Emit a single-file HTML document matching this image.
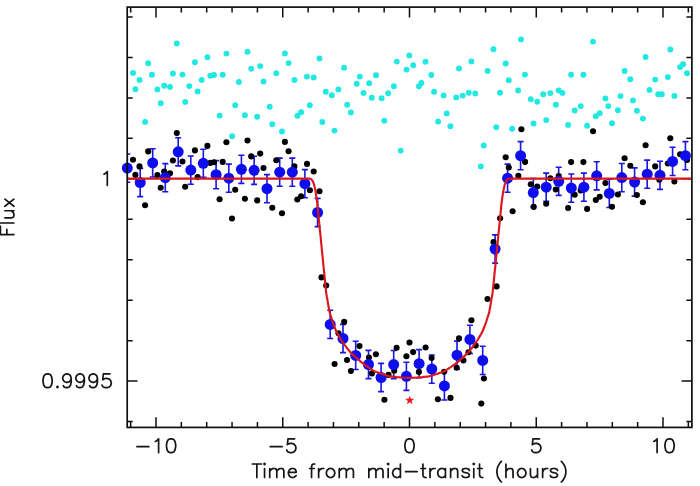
<!DOCTYPE html>
<html><head><meta charset="utf-8"><title>Transit light curve</title>
<style>html,body{margin:0;padding:0;background:#fff;}body{width:700px;height:486px;overflow:hidden;font-family:"Liberation Sans",sans-serif;}svg{display:block;}</style>
</head><body>
<svg width="700" height="486" viewBox="0 0 700 486">
<rect width="700" height="486" fill="#fff"/>
<defs><filter id="soft" x="-2%" y="-2%" width="104%" height="104%"><feGaussianBlur stdDeviation="0.4"/></filter></defs>
<g filter="url(#soft)">
<defs><clipPath id="c"><rect x="127.2" y="7.1" width="564.6999999999999" height="420.34999999999997"/></clipPath></defs>
<g fill="#20e8e2">
<circle cx="133.0" cy="72.9" r="2.95"/>
<circle cx="139.5" cy="79.9" r="2.95"/>
<circle cx="135.4" cy="89.2" r="2.95"/>
<circle cx="148.2" cy="63.3" r="2.95"/>
<circle cx="151.9" cy="74.8" r="2.95"/>
<circle cx="145.1" cy="121.9" r="2.95"/>
<circle cx="157.4" cy="89.4" r="2.95"/>
<circle cx="160.7" cy="103.2" r="2.95"/>
<circle cx="164.2" cy="85.7" r="2.95"/>
<circle cx="170.0" cy="86.9" r="2.95"/>
<circle cx="172.9" cy="73.5" r="2.95"/>
<circle cx="176.8" cy="43.5" r="2.95"/>
<circle cx="182.5" cy="74.6" r="2.95"/>
<circle cx="185.2" cy="101.9" r="2.95"/>
<circle cx="189.3" cy="86.1" r="2.95"/>
<circle cx="194.9" cy="62.2" r="2.95"/>
<circle cx="197.6" cy="91.4" r="2.95"/>
<circle cx="201.7" cy="79.9" r="2.95"/>
<circle cx="207.4" cy="57.3" r="2.95"/>
<circle cx="210.3" cy="75.8" r="2.95"/>
<circle cx="214.0" cy="75.0" r="2.95"/>
<circle cx="222.7" cy="74.8" r="2.95"/>
<circle cx="219.6" cy="115.6" r="2.95"/>
<circle cx="226.4" cy="53.6" r="2.95"/>
<circle cx="235.2" cy="105.2" r="2.95"/>
<circle cx="238.9" cy="82.0" r="2.95"/>
<circle cx="247.5" cy="51.7" r="2.95"/>
<circle cx="244.9" cy="115.2" r="2.95"/>
<circle cx="251.2" cy="68.8" r="2.95"/>
<circle cx="257.2" cy="116.8" r="2.95"/>
<circle cx="260.2" cy="66.1" r="2.95"/>
<circle cx="263.5" cy="81.5" r="2.95"/>
<circle cx="269.7" cy="106.7" r="2.95"/>
<circle cx="272.3" cy="124.2" r="2.95"/>
<circle cx="276.3" cy="73.3" r="2.95"/>
<circle cx="284.9" cy="53.4" r="2.95"/>
<circle cx="288.6" cy="63.1" r="2.95"/>
<circle cx="294.4" cy="79.9" r="2.95"/>
<circle cx="297.4" cy="115.7" r="2.95"/>
<circle cx="301.1" cy="112.2" r="2.95"/>
<circle cx="306.9" cy="76.6" r="2.95"/>
<circle cx="309.8" cy="105.2" r="2.95"/>
<circle cx="313.7" cy="77.5" r="2.95"/>
<circle cx="319.5" cy="58.5" r="2.95"/>
<circle cx="322.3" cy="122.0" r="2.95"/>
<circle cx="325.8" cy="91.7" r="2.95"/>
<circle cx="331.8" cy="95.2" r="2.95"/>
<circle cx="338.4" cy="89.4" r="2.95"/>
<circle cx="344.1" cy="67.8" r="2.95"/>
<circle cx="347.2" cy="104.8" r="2.95"/>
<circle cx="350.9" cy="112.4" r="2.95"/>
<circle cx="356.7" cy="83.8" r="2.95"/>
<circle cx="359.8" cy="76.6" r="2.95"/>
<circle cx="363.5" cy="92.9" r="2.95"/>
<circle cx="369.2" cy="83.2" r="2.95"/>
<circle cx="371.7" cy="97.8" r="2.95"/>
<circle cx="376.0" cy="75.2" r="2.95"/>
<circle cx="381.6" cy="98.2" r="2.95"/>
<circle cx="384.3" cy="120.7" r="2.95"/>
<circle cx="388.2" cy="93.3" r="2.95"/>
<circle cx="393.9" cy="86.3" r="2.95"/>
<circle cx="396.8" cy="61.6" r="2.95"/>
<circle cx="406.6" cy="69.6" r="2.95"/>
<circle cx="409.3" cy="55.4" r="2.95"/>
<circle cx="413.2" cy="65.3" r="2.95"/>
<circle cx="418.9" cy="86.3" r="2.95"/>
<circle cx="421.4" cy="83.0" r="2.95"/>
<circle cx="425.5" cy="61.8" r="2.95"/>
<circle cx="431.3" cy="75.0" r="2.95"/>
<circle cx="434.1" cy="91.7" r="2.95"/>
<circle cx="438.1" cy="121.5" r="2.95"/>
<circle cx="443.6" cy="95.4" r="2.95"/>
<circle cx="446.7" cy="113.4" r="2.95"/>
<circle cx="450.4" cy="126.3" r="2.95"/>
<circle cx="456.2" cy="97.4" r="2.95"/>
<circle cx="459.0" cy="68.4" r="2.95"/>
<circle cx="462.7" cy="95.6" r="2.95"/>
<circle cx="468.7" cy="92.7" r="2.95"/>
<circle cx="471.4" cy="61.4" r="2.95"/>
<circle cx="475.3" cy="93.5" r="2.95"/>
<circle cx="487.6" cy="70.9" r="2.95"/>
<circle cx="493.4" cy="49.3" r="2.95"/>
<circle cx="496.3" cy="127.3" r="2.95"/>
<circle cx="500.0" cy="92.7" r="2.95"/>
<circle cx="505.7" cy="63.5" r="2.95"/>
<circle cx="508.8" cy="80.3" r="2.95"/>
<circle cx="518.1" cy="90.4" r="2.95"/>
<circle cx="521.0" cy="39.4" r="2.95"/>
<circle cx="524.9" cy="74.6" r="2.95"/>
<circle cx="530.8" cy="99.3" r="2.95"/>
<circle cx="533.5" cy="123.5" r="2.95"/>
<circle cx="537.2" cy="101.7" r="2.95"/>
<circle cx="543.2" cy="94.2" r="2.95"/>
<circle cx="546.2" cy="120.1" r="2.95"/>
<circle cx="550.3" cy="93.1" r="2.95"/>
<circle cx="555.8" cy="104.8" r="2.95"/>
<circle cx="558.7" cy="90.4" r="2.95"/>
<circle cx="562.4" cy="92.9" r="2.95"/>
<circle cx="568.1" cy="124.9" r="2.95"/>
<circle cx="571.1" cy="74.8" r="2.95"/>
<circle cx="574.7" cy="110.5" r="2.95"/>
<circle cx="580.7" cy="106.1" r="2.95"/>
<circle cx="583.4" cy="74.8" r="2.95"/>
<circle cx="587.1" cy="125.8" r="2.95"/>
<circle cx="593.0" cy="41.6" r="2.95"/>
<circle cx="595.8" cy="116.3" r="2.95"/>
<circle cx="599.7" cy="113.2" r="2.95"/>
<circle cx="605.4" cy="98.4" r="2.95"/>
<circle cx="608.3" cy="106.1" r="2.95"/>
<circle cx="612.0" cy="123.2" r="2.95"/>
<circle cx="617.9" cy="110.3" r="2.95"/>
<circle cx="620.5" cy="96.1" r="2.95"/>
<circle cx="624.6" cy="70.9" r="2.95"/>
<circle cx="630.3" cy="79.2" r="2.95"/>
<circle cx="633.0" cy="100.4" r="2.95"/>
<circle cx="636.9" cy="110.7" r="2.95"/>
<circle cx="642.9" cy="118.6" r="2.95"/>
<circle cx="645.6" cy="57.0" r="2.95"/>
<circle cx="649.5" cy="89.9" r="2.95"/>
<circle cx="655.2" cy="79.6" r="2.95"/>
<circle cx="658.2" cy="94.3" r="2.95"/>
<circle cx="661.8" cy="94.3" r="2.95"/>
<circle cx="667.8" cy="77.1" r="2.95"/>
<circle cx="670.3" cy="49.5" r="2.95"/>
<circle cx="674.4" cy="95.9" r="2.95"/>
<circle cx="680.1" cy="67.1" r="2.95"/>
<circle cx="683.1" cy="64.3" r="2.95"/>
<circle cx="687.0" cy="73.2" r="2.95"/>
<circle cx="232.1" cy="136.2" r="2.95"/>
<circle cx="282.0" cy="131.5" r="2.95"/>
<circle cx="334.5" cy="130.6" r="2.95"/>
<circle cx="400.7" cy="150.6" r="2.95"/>
<circle cx="483.7" cy="145.4" r="2.95"/>
<circle cx="480.8" cy="166.4" r="2.95"/>
<circle cx="512.1" cy="128.8" r="2.95"/>
</g>
<g stroke="#1a14e0" stroke-width="1.6" fill="none" clip-path="url(#c)">
<path d="M127.3,154.0V182.2M124.3,154.0h6M124.3,182.2h6"/>
<path d="M140.2,168.4V196.6M137.2,168.4h6M137.2,196.6h6"/>
<path d="M152.7,148.8V177.0M149.7,148.8h6M149.7,177.0h6"/>
<path d="M165.3,163.6V191.8M162.3,163.6h6M162.3,191.8h6"/>
<path d="M178.2,137.7V165.9M175.2,137.7h6M175.2,165.9h6"/>
<path d="M190.8,156.0V184.2M187.8,156.0h6M187.8,184.2h6"/>
<path d="M203.3,149.2V177.4M200.3,149.2h6M200.3,177.4h6"/>
<path d="M216.1,160.6V188.8M213.1,160.6h6M213.1,188.8h6"/>
<path d="M228.8,164.1V192.3M225.8,164.1h6M225.8,192.3h6"/>
<path d="M241.4,155.2V183.4M238.4,155.2h6M238.4,183.4h6"/>
<path d="M254.1,156.2V184.4M251.1,156.2h6M251.1,184.4h6"/>
<path d="M267.0,174.6V202.8M264.0,174.6h6M264.0,202.8h6"/>
<path d="M279.7,158.1V186.3M276.7,158.1h6M276.7,186.3h6"/>
<path d="M292.3,158.1V186.3M289.3,158.1h6M289.3,186.3h6"/>
<path d="M304.9,169.6V197.8M301.9,169.6h6M301.9,197.8h6"/>
<path d="M317.6,198.4V226.6M314.6,198.4h6M314.6,226.6h6"/>
<path d="M330.2,310.3V338.5M327.2,310.3h6M327.2,338.5h6"/>
<path d="M343.0,324.4V352.6M340.0,324.4h6M340.0,352.6h6"/>
<path d="M355.7,341.3V369.5M352.7,341.3h6M352.7,369.5h6"/>
<path d="M368.5,350.4V378.6M365.5,350.4h6M365.5,378.6h6"/>
<path d="M381.1,363.4V391.6M378.1,363.4h6M378.1,391.6h6"/>
<path d="M393.7,350.5V378.7M390.7,350.5h6M390.7,378.7h6"/>
<path d="M406.4,362.2V390.4M403.4,362.2h6M403.4,390.4h6"/>
<path d="M419.1,349.6V377.8M416.1,349.6h6M416.1,377.8h6"/>
<path d="M431.8,355.0V383.2M428.8,355.0h6M428.8,383.2h6"/>
<path d="M444.4,371.8V400.0M441.4,371.8h6M441.4,400.0h6"/>
<path d="M457.0,341.1V369.3M454.0,341.1h6M454.0,369.3h6"/>
<path d="M469.9,325.3V353.5M466.9,325.3h6M466.9,353.5h6"/>
<path d="M482.7,346.3V374.5M479.7,346.3h6M479.7,374.5h6"/>
<path d="M495.1,234.9V263.1M492.1,234.9h6M492.1,263.1h6"/>
<path d="M507.6,164.1V192.3M504.6,164.1h6M504.6,192.3h6"/>
<path d="M520.6,141.6V169.8M517.6,141.6h6M517.6,169.8h6"/>
<path d="M533.3,178.5V206.7M530.3,178.5h6M530.3,206.7h6"/>
<path d="M546.2,173.1V201.3M543.2,173.1h6M543.2,201.3h6"/>
<path d="M558.7,167.2V195.4M555.7,167.2h6M555.7,195.4h6"/>
<path d="M571.3,174.0V202.2M568.3,174.0h6M568.3,202.2h6"/>
<path d="M583.9,173.1V201.3M580.9,173.1h6M580.9,201.3h6"/>
<path d="M596.7,161.7V189.9M593.7,161.7h6M593.7,189.9h6"/>
<path d="M609.3,179.3V207.5M606.3,179.3h6M606.3,207.5h6"/>
<path d="M621.8,163.5V191.7M618.8,163.5h6M618.8,191.7h6"/>
<path d="M634.6,167.9V196.1M631.6,167.9h6M631.6,196.1h6"/>
<path d="M647.2,160.1V188.3M644.2,160.1h6M644.2,188.3h6"/>
<path d="M660.0,161.2V189.4M657.0,161.2h6M657.0,189.4h6"/>
<path d="M672.6,147.3V175.5M669.6,147.3h6M669.6,175.5h6"/>
<path d="M685.4,141.6V169.8M682.4,141.6h6M682.4,169.8h6"/>
</g>
<g fill="#000">
<circle cx="232.0" cy="218.5" r="3.05"/>
<circle cx="133.0" cy="159.8" r="3.05"/>
<circle cx="135.4" cy="174.9" r="3.05"/>
<circle cx="139.5" cy="166.4" r="3.05"/>
<circle cx="145.1" cy="205.3" r="3.05"/>
<circle cx="148.2" cy="151.4" r="3.05"/>
<circle cx="157.4" cy="175.1" r="3.05"/>
<circle cx="160.7" cy="187.8" r="3.05"/>
<circle cx="164.2" cy="171.6" r="3.05"/>
<circle cx="170.0" cy="173.2" r="3.05"/>
<circle cx="172.9" cy="160.5" r="3.05"/>
<circle cx="176.8" cy="133.1" r="3.05"/>
<circle cx="182.5" cy="161.5" r="3.05"/>
<circle cx="185.2" cy="186.8" r="3.05"/>
<circle cx="194.9" cy="150.4" r="3.05"/>
<circle cx="197.6" cy="177.1" r="3.05"/>
<circle cx="207.4" cy="145.9" r="3.05"/>
<circle cx="210.3" cy="162.9" r="3.05"/>
<circle cx="214.0" cy="162.3" r="3.05"/>
<circle cx="222.7" cy="161.9" r="3.05"/>
<circle cx="219.6" cy="199.3" r="3.05"/>
<circle cx="226.4" cy="142.2" r="3.05"/>
<circle cx="235.2" cy="189.7" r="3.05"/>
<circle cx="247.5" cy="140.5" r="3.05"/>
<circle cx="244.9" cy="198.7" r="3.05"/>
<circle cx="251.2" cy="156.4" r="3.05"/>
<circle cx="257.2" cy="200.4" r="3.05"/>
<circle cx="260.2" cy="153.6" r="3.05"/>
<circle cx="263.5" cy="168.0" r="3.05"/>
<circle cx="272.3" cy="207.8" r="3.05"/>
<circle cx="276.3" cy="160.3" r="3.05"/>
<circle cx="282.0" cy="213.3" r="3.05"/>
<circle cx="284.9" cy="141.9" r="3.05"/>
<circle cx="288.6" cy="151.2" r="3.05"/>
<circle cx="294.4" cy="166.4" r="3.05"/>
<circle cx="297.3" cy="199.5" r="3.05"/>
<circle cx="301.1" cy="196.2" r="3.05"/>
<circle cx="307.0" cy="163.9" r="3.05"/>
<circle cx="309.9" cy="190.2" r="3.05"/>
<circle cx="313.7" cy="171.5" r="3.05"/>
<circle cx="319.5" cy="191.2" r="3.05"/>
<circle cx="321.5" cy="277.4" r="3.05"/>
<circle cx="326.2" cy="285.6" r="3.05"/>
<circle cx="344.2" cy="321.9" r="3.05"/>
<circle cx="338.5" cy="333.2" r="3.05"/>
<circle cx="334.6" cy="364.0" r="3.05"/>
<circle cx="347.0" cy="360.0" r="3.05"/>
<circle cx="350.9" cy="371.0" r="3.05"/>
<circle cx="359.5" cy="346.1" r="3.05"/>
<circle cx="368.9" cy="357.5" r="3.05"/>
<circle cx="375.9" cy="354.3" r="3.05"/>
<circle cx="371.9" cy="373.4" r="3.05"/>
<circle cx="388.5" cy="374.9" r="3.05"/>
<circle cx="396.6" cy="347.7" r="3.05"/>
<circle cx="394.2" cy="370.8" r="3.05"/>
<circle cx="406.4" cy="356.2" r="3.05"/>
<circle cx="409.5" cy="342.6" r="3.05"/>
<circle cx="413.1" cy="352.1" r="3.05"/>
<circle cx="418.9" cy="371.9" r="3.05"/>
<circle cx="425.6" cy="347.5" r="3.05"/>
<circle cx="431.6" cy="358.0" r="3.05"/>
<circle cx="384.4" cy="399.7" r="3.05"/>
<circle cx="444.1" cy="371.8" r="3.05"/>
<circle cx="437.9" cy="399.2" r="3.05"/>
<circle cx="450.5" cy="397.9" r="3.05"/>
<circle cx="456.7" cy="367.7" r="3.05"/>
<circle cx="459.0" cy="338.4" r="3.05"/>
<circle cx="463.4" cy="360.4" r="3.05"/>
<circle cx="468.5" cy="352.2" r="3.05"/>
<circle cx="471.4" cy="320.3" r="3.05"/>
<circle cx="475.7" cy="345.6" r="3.05"/>
<circle cx="483.9" cy="378.5" r="3.05"/>
<circle cx="481.3" cy="403.6" r="3.05"/>
<circle cx="493.5" cy="242.0" r="3.05"/>
<circle cx="496.6" cy="286.4" r="3.05"/>
<circle cx="487.5" cy="299.0" r="3.05"/>
<circle cx="500.1" cy="218.2" r="3.05"/>
<circle cx="512.6" cy="211.2" r="3.05"/>
<circle cx="521.4" cy="129.2" r="3.05"/>
<circle cx="505.7" cy="157.2" r="3.05"/>
<circle cx="525.1" cy="161.9" r="3.05"/>
<circle cx="508.8" cy="167.5" r="3.05"/>
<circle cx="518.3" cy="175.7" r="3.05"/>
<circle cx="530.8" cy="184.3" r="3.05"/>
<circle cx="537.2" cy="186.6" r="3.05"/>
<circle cx="533.7" cy="206.9" r="3.05"/>
<circle cx="546.2" cy="203.8" r="3.05"/>
<circle cx="550.3" cy="178.3" r="3.05"/>
<circle cx="555.8" cy="189.5" r="3.05"/>
<circle cx="558.7" cy="176.0" r="3.05"/>
<circle cx="568.1" cy="208.0" r="3.05"/>
<circle cx="571.1" cy="162.1" r="3.05"/>
<circle cx="574.7" cy="194.8" r="3.05"/>
<circle cx="580.7" cy="190.4" r="3.05"/>
<circle cx="583.4" cy="162.1" r="3.05"/>
<circle cx="587.1" cy="208.9" r="3.05"/>
<circle cx="593.0" cy="131.2" r="3.05"/>
<circle cx="595.8" cy="200.0" r="3.05"/>
<circle cx="599.7" cy="196.8" r="3.05"/>
<circle cx="605.4" cy="183.1" r="3.05"/>
<circle cx="612.0" cy="206.7" r="3.05"/>
<circle cx="617.9" cy="194.5" r="3.05"/>
<circle cx="624.6" cy="158.2" r="3.05"/>
<circle cx="630.3" cy="165.7" r="3.05"/>
<circle cx="636.9" cy="195.0" r="3.05"/>
<circle cx="642.9" cy="202.3" r="3.05"/>
<circle cx="645.6" cy="145.2" r="3.05"/>
<circle cx="655.2" cy="166.4" r="3.05"/>
<circle cx="659.3" cy="179.7" r="3.05"/>
<circle cx="667.8" cy="163.5" r="3.05"/>
<circle cx="670.3" cy="138.3" r="3.05"/>
<circle cx="674.4" cy="181.5" r="3.05"/>
<circle cx="680.1" cy="154.3" r="3.05"/>
<circle cx="687.0" cy="160.0" r="3.05"/>
</g>
<g fill="#0e0aee">
<circle cx="127.3" cy="168.1" r="5.5"/>
<circle cx="140.2" cy="182.5" r="5.5"/>
<circle cx="152.7" cy="162.9" r="5.5"/>
<circle cx="165.3" cy="177.7" r="5.5"/>
<circle cx="178.2" cy="151.8" r="5.5"/>
<circle cx="190.8" cy="170.1" r="5.5"/>
<circle cx="203.3" cy="163.3" r="5.5"/>
<circle cx="216.1" cy="174.7" r="5.5"/>
<circle cx="228.8" cy="178.2" r="5.5"/>
<circle cx="241.4" cy="169.3" r="5.5"/>
<circle cx="254.1" cy="170.3" r="5.5"/>
<circle cx="267.0" cy="188.7" r="5.5"/>
<circle cx="279.7" cy="172.2" r="5.5"/>
<circle cx="292.3" cy="172.2" r="5.5"/>
<circle cx="304.9" cy="183.7" r="5.5"/>
<circle cx="317.6" cy="212.5" r="5.5"/>
<circle cx="330.2" cy="324.4" r="5.5"/>
<circle cx="343.0" cy="338.5" r="5.5"/>
<circle cx="355.7" cy="355.4" r="5.5"/>
<circle cx="368.5" cy="364.5" r="5.5"/>
<circle cx="381.1" cy="377.5" r="5.5"/>
<circle cx="393.7" cy="364.6" r="5.5"/>
<circle cx="406.4" cy="376.3" r="5.5"/>
<circle cx="419.1" cy="363.7" r="5.5"/>
<circle cx="431.8" cy="369.1" r="5.5"/>
<circle cx="444.4" cy="385.9" r="5.5"/>
<circle cx="457.0" cy="355.2" r="5.5"/>
<circle cx="469.9" cy="339.4" r="5.5"/>
<circle cx="482.7" cy="360.4" r="5.5"/>
<circle cx="495.1" cy="249.0" r="5.5"/>
<circle cx="507.6" cy="178.2" r="5.5"/>
<circle cx="520.6" cy="155.7" r="5.5"/>
<circle cx="533.3" cy="192.6" r="5.5"/>
<circle cx="546.2" cy="187.2" r="5.5"/>
<circle cx="558.7" cy="181.3" r="5.5"/>
<circle cx="571.3" cy="188.1" r="5.5"/>
<circle cx="583.9" cy="187.2" r="5.5"/>
<circle cx="596.7" cy="175.8" r="5.5"/>
<circle cx="609.3" cy="193.4" r="5.5"/>
<circle cx="621.8" cy="177.6" r="5.5"/>
<circle cx="634.6" cy="182.0" r="5.5"/>
<circle cx="647.2" cy="174.2" r="5.5"/>
<circle cx="660.0" cy="175.3" r="5.5"/>
<circle cx="672.6" cy="161.4" r="5.5"/>
<circle cx="685.4" cy="155.7" r="5.5"/>
</g>
<polygon points="409.70,395.40 410.82,398.76 414.36,398.79 411.51,400.89 412.58,404.26 409.70,402.20 406.82,404.26 407.89,400.89 405.04,398.79 408.58,398.76" fill="#f01818"/>
<path d="M130.65,427.45v-5.5M130.65,7.1v5.5M156.00,427.45v-10.3M156.00,7.1v10.3M181.35,427.45v-5.5M181.35,7.1v5.5M206.70,427.45v-5.5M206.70,7.1v5.5M232.05,427.45v-5.5M232.05,7.1v5.5M257.40,427.45v-5.5M257.40,7.1v5.5M282.75,427.45v-10.3M282.75,7.1v10.3M308.10,427.45v-5.5M308.10,7.1v5.5M333.45,427.45v-5.5M333.45,7.1v5.5M358.80,427.45v-5.5M358.80,7.1v5.5M384.15,427.45v-5.5M384.15,7.1v5.5M409.50,427.45v-10.3M409.50,7.1v10.3M434.85,427.45v-5.5M434.85,7.1v5.5M460.20,427.45v-5.5M460.20,7.1v5.5M485.55,427.45v-5.5M485.55,7.1v5.5M510.90,427.45v-5.5M510.90,7.1v5.5M536.25,427.45v-10.3M536.25,7.1v10.3M561.60,427.45v-5.5M561.60,7.1v5.5M586.95,427.45v-5.5M586.95,7.1v5.5M612.30,427.45v-5.5M612.30,7.1v5.5M637.65,427.45v-5.5M637.65,7.1v5.5M663.00,427.45v-10.3M663.00,7.1v10.3M688.35,427.45v-5.5M688.35,7.1v5.5M127.2,16.96h5.5M691.9,16.96h-5.5M127.2,57.42h5.5M691.9,57.42h-5.5M127.2,97.88h5.5M691.9,97.88h-5.5M127.2,138.34h5.5M691.9,138.34h-5.5M127.2,178.80h10.3M691.9,178.80h-10.3M127.2,219.26h5.5M691.9,219.26h-5.5M127.2,259.72h5.5M691.9,259.72h-5.5M127.2,300.18h5.5M691.9,300.18h-5.5M127.2,340.64h5.5M691.9,340.64h-5.5M127.2,381.10h10.3M691.9,381.10h-10.3M127.2,421.56h5.5M691.9,421.56h-5.5" stroke="#111" stroke-width="1.5" fill="none"/>
<rect x="127.2" y="7.1" width="564.7" height="420.3" fill="none" stroke="#111" stroke-width="1.7"/>
<path d="M128.0,178.6 L308.9,178.6 L309.1,178.6 L309.3,178.6 L309.6,178.7 L309.8,178.7 L310.1,178.8 L310.4,178.9 L310.7,179.0 L310.9,179.2 L311.2,179.3 L311.4,179.5 L311.7,179.8 L311.9,180.0 L312.1,180.3 L312.3,180.5 L312.5,180.8 L312.7,181.2 L312.9,181.5 L313.1,182.0 L313.3,182.5 L313.5,183.1 L313.7,183.7 L314.0,184.4 L314.2,185.1 L314.4,186.0 L314.6,187.0 L314.9,188.0 L315.1,189.2 L315.3,190.4 L315.6,191.6 L315.8,192.9 L316.0,194.2 L316.2,195.5 L316.4,196.9 L316.6,198.3 L316.8,199.8 L317.0,201.2 L317.1,202.3 L317.2,202.9 L317.3,203.6 L317.4,204.7 L317.6,206.7 L317.9,210.0 L318.4,214.9 L319.0,221.0 L319.7,228.0 L320.5,235.5 L321.2,243.0 L321.9,250.0 L322.6,257.0 L323.3,264.5 L324.1,271.9 L324.8,278.9 L325.4,285.1 L325.9,290.0 L326.3,293.4 L326.6,295.4 L326.8,296.7 L327.0,297.5 L327.2,298.3 L327.4,299.5 L327.6,301.0 L327.9,302.6 L328.1,304.1 L328.4,305.6 L328.6,307.1 L328.9,308.5 L329.2,309.8 L329.4,310.9 L329.6,312.0 L329.9,313.2 L330.3,314.7 L330.9,316.5 L331.7,318.8 L332.5,321.5 L333.5,324.4 L334.7,327.5 L335.9,330.5 L337.4,333.5 L339.1,336.4 L340.9,339.5 L343.0,342.5 L345.1,345.5 L347.2,348.4 L349.4,351.0 L351.6,353.4 L353.9,355.6 L356.2,357.8 L358.5,359.7 L360.7,361.6 L362.9,363.3 L365.0,365.0 L367.2,366.5 L369.3,368.0 L371.3,369.2 L373.0,370.3 L374.4,371.2 L375.3,371.7 L375.7,371.9 L375.9,372.0 L376.1,371.9 L376.5,372.0 L377.4,372.2 L378.8,372.7 L380.5,373.4 L382.5,374.1 L384.5,374.8 L386.5,375.5 L388.4,376.0 L390.1,376.4 L391.8,376.6 L393.4,376.8 L395.0,376.9 L396.7,377.1 L398.4,377.2 L400.3,377.4 L402.4,377.5 L404.5,377.7 L406.5,377.8 L408.2,377.9 L409.4,378.0 L410.6,377.9 L412.3,377.8 L414.3,377.7 L416.4,377.5 L418.5,377.4 L420.4,377.2 L422.1,377.1 L423.8,376.9 L425.4,376.8 L427.0,376.6 L428.7,376.4 L430.4,376.0 L432.3,375.5 L434.3,374.8 L436.3,374.1 L438.3,373.4 L440.0,372.7 L441.4,372.2 L442.3,372.0 L442.7,371.9 L442.9,372.0 L443.1,371.9 L443.5,371.7 L444.4,371.2 L445.8,370.3 L447.5,369.2 L449.5,368.0 L451.6,366.5 L453.8,365.0 L455.9,363.3 L458.1,361.6 L460.3,359.7 L462.6,357.8 L464.9,355.6 L467.2,353.4 L469.4,351.0 L471.6,348.4 L473.7,345.5 L475.8,342.5 L477.9,339.5 L479.7,336.4 L481.4,333.5 L482.9,330.5 L484.1,327.5 L485.3,324.4 L486.3,321.5 L487.1,318.8 L487.9,316.5 L488.5,314.7 L488.9,313.2 L489.2,312.0 L489.4,310.9 L489.6,309.8 L489.9,308.5 L490.2,307.1 L490.4,305.6 L490.7,304.1 L490.9,302.6 L491.2,301.0 L491.4,299.5 L491.6,298.3 L491.8,297.5 L492.0,296.7 L492.2,295.4 L492.5,293.4 L492.9,290.0 L493.4,285.1 L494.0,278.9 L494.7,271.9 L495.5,264.5 L496.2,257.0 L496.9,250.0 L497.6,243.0 L498.3,235.5 L499.1,228.0 L499.8,221.0 L500.4,214.9 L500.9,210.0 L501.2,206.7 L501.4,204.7 L501.5,203.6 L501.6,202.9 L501.7,202.3 L501.8,201.2 L502.0,199.8 L502.2,198.3 L502.4,196.9 L502.6,195.5 L502.8,194.2 L503.0,192.9 L503.2,191.6 L503.5,190.4 L503.7,189.2 L503.9,188.0 L504.2,187.0 L504.4,186.0 L504.6,185.1 L504.8,184.4 L505.1,183.7 L505.3,183.1 L505.5,182.5 L505.7,182.0 L505.9,181.5 L506.1,181.2 L506.3,180.8 L506.5,180.5 L506.7,180.3 L506.9,180.0 L507.1,179.8 L507.4,179.5 L507.6,179.3 L507.9,179.2 L508.1,179.0 L508.4,178.9 L508.7,178.8 L509.0,178.7 L509.2,178.7 L509.5,178.6 L509.7,178.6 L509.9,178.6 L691.1,178.6" fill="none" stroke="#dc161c" stroke-width="2.15" stroke-linejoin="round"/>
<path d="M136.98,446.70L148.78,446.70M155.34,441.45L156.66,440.79L158.62,438.82L158.62,452.60M170.43,438.82L168.46,439.48L167.15,441.45L166.50,444.73L166.50,446.70L167.15,449.98L168.46,451.94L170.43,452.60L171.74,452.60L173.71,451.94L175.02,449.98L175.68,446.70L175.68,444.73L175.02,441.45L173.71,439.48L171.74,438.82L170.43,438.82M270.29,446.70L282.09,446.70M294.56,438.82L288.00,438.82L287.34,444.73L288.00,444.07L289.97,443.42L291.93,443.42L293.90,444.07L295.21,445.38L295.87,447.35L295.87,448.66L295.21,450.63L293.90,451.94L291.93,452.60L289.97,452.60L288.00,451.94L287.34,451.29L286.69,449.98M408.84,438.82L406.88,439.48L405.56,441.45L404.91,444.73L404.91,446.70L405.56,449.98L406.88,451.94L408.84,452.60L410.16,452.60L412.12,451.94L413.44,449.98L414.09,446.70L414.09,444.73L413.44,441.45L412.12,439.48L410.16,438.82L408.84,438.82M539.53,438.82L532.97,438.82L532.31,444.73L532.97,444.07L534.94,443.42L536.91,443.42L538.87,444.07L540.19,445.38L540.84,447.35L540.84,448.66L540.19,450.63L538.87,451.94L536.91,452.60L534.94,452.60L532.97,451.94L532.31,451.29L531.66,449.98M653.82,441.45L655.13,440.79L657.10,438.82L657.10,452.60M668.90,438.82L666.94,439.48L665.62,441.45L664.97,444.73L664.97,446.70L665.62,449.98L666.94,451.94L668.90,452.60L670.22,452.60L672.18,451.94L673.50,449.98L674.15,446.70L674.15,444.73L673.50,441.45L672.18,439.48L670.22,438.82L668.90,438.82M104.02,174.20L105.33,173.54L107.30,171.57L107.30,185.35M46.94,373.87L44.98,374.53L43.66,376.50L43.01,379.78L43.01,381.75L43.66,385.03L44.98,386.99L46.94,387.65L48.26,387.65L50.22,386.99L51.54,385.03L52.19,381.75L52.19,379.78L51.54,376.50L50.22,374.53L48.26,373.87L46.94,373.87M57.44,386.34L56.78,386.99L57.44,387.65L58.10,386.99L57.44,386.34M71.22,378.47L70.56,380.43L69.25,381.75L67.28,382.40L66.62,382.40L64.66,381.75L63.34,380.43L62.69,378.47L62.69,377.81L63.34,375.84L64.66,374.53L66.62,373.87L67.28,373.87L69.25,374.53L70.56,375.84L71.22,378.47L71.22,381.75L70.56,385.03L69.25,386.99L67.28,387.65L65.97,387.65L64.00,386.99L63.34,385.68M84.34,378.47L83.68,380.43L82.37,381.75L80.40,382.40L79.74,382.40L77.78,381.75L76.46,380.43L75.81,378.47L75.81,377.81L76.46,375.84L77.78,374.53L79.74,373.87L80.40,373.87L82.37,374.53L83.68,375.84L84.34,378.47L84.34,381.75L83.68,385.03L82.37,386.99L80.40,387.65L79.09,387.65L77.12,386.99L76.46,385.68M97.46,378.47L96.80,380.43L95.49,381.75L93.52,382.40L92.86,382.40L90.90,381.75L89.58,380.43L88.93,378.47L88.93,377.81L89.58,375.84L90.90,374.53L92.86,373.87L93.52,373.87L95.49,374.53L96.80,375.84L97.46,378.47L97.46,381.75L96.80,385.03L95.49,386.99L93.52,387.65L92.21,387.65L90.24,386.99L89.58,385.68M109.92,373.87L103.36,373.87L102.70,379.78L103.36,379.12L105.33,378.47L107.30,378.47L109.26,379.12L110.58,380.43L111.23,382.40L111.23,383.71L110.58,385.68L109.26,386.99L107.30,387.65L105.33,387.65L103.36,386.99L102.70,386.34L102.05,385.03M256.85,463.98L256.85,477.50M252.34,463.98L261.36,463.98M263.93,463.98L264.57,464.63L265.22,463.98L264.57,463.34L263.93,463.98M264.57,468.49L264.57,477.50M269.72,468.49L269.72,477.50M269.72,471.06L271.65,469.13L272.94,468.49L274.87,468.49L276.16,469.13L276.80,471.06L276.80,477.50M276.80,471.06L278.74,469.13L280.02,468.49L281.95,468.49L283.24,469.13L283.88,471.06L283.88,477.50M288.39,472.35L296.12,472.35L296.12,471.06L295.47,469.78L294.83,469.13L293.54,468.49L291.61,468.49L290.32,469.13L289.03,470.42L288.39,472.35L288.39,473.64L289.03,475.57L290.32,476.86L291.61,477.50L293.54,477.50L294.83,476.86L296.12,475.57M314.78,463.98L313.50,463.98L312.21,464.63L311.56,466.56L311.56,477.50M309.63,468.49L314.14,468.49M318.64,468.49L318.64,477.50M318.64,472.35L319.29,470.42L320.58,469.13L321.86,468.49L323.79,468.49M329.59,468.49L328.30,469.13L327.01,470.42L326.37,472.35L326.37,473.64L327.01,475.57L328.30,476.86L329.59,477.50L331.52,477.50L332.81,476.86L334.09,475.57L334.74,473.64L334.74,472.35L334.09,470.42L332.81,469.13L331.52,468.49L329.59,468.49M339.24,468.49L339.24,477.50M339.24,471.06L341.17,469.13L342.46,468.49L344.39,468.49L345.68,469.13L346.32,471.06L346.32,477.50M346.32,471.06L348.25,469.13L349.54,468.49L351.47,468.49L352.76,469.13L353.40,471.06L353.40,477.50M368.85,468.49L368.85,477.50M368.85,471.06L370.78,469.13L372.07,468.49L374.00,468.49L375.29,469.13L375.93,471.06L375.93,477.50M375.93,471.06L377.87,469.13L379.15,468.49L381.08,468.49L382.37,469.13L383.01,471.06L383.01,477.50M387.52,463.98L388.16,464.63L388.81,463.98L388.16,463.34L387.52,463.98M388.16,468.49L388.16,477.50M400.39,463.98L400.39,477.50M400.39,470.42L399.11,469.13L397.82,468.49L395.89,468.49L394.60,469.13L393.31,470.42L392.67,472.35L392.67,473.64L393.31,475.57L394.60,476.86L395.89,477.50L397.82,477.50L399.11,476.86L400.39,475.57M405.54,471.71L417.13,471.71M422.92,463.98L422.92,474.93L423.57,476.86L424.86,477.50L426.14,477.50M420.99,468.49L425.50,468.49M430.00,468.49L430.00,477.50M430.00,472.35L430.65,470.42L431.94,469.13L433.22,468.49L435.15,468.49M445.45,468.49L445.45,477.50M445.45,470.42L444.17,469.13L442.88,468.49L440.95,468.49L439.66,469.13L438.37,470.42L437.73,472.35L437.73,473.64L438.37,475.57L439.66,476.86L440.95,477.50L442.88,477.50L444.17,476.86L445.45,475.57M450.60,468.49L450.60,477.50M450.60,471.06L452.53,469.13L453.82,468.49L455.75,468.49L457.04,469.13L457.68,471.06L457.68,477.50M469.27,470.42L468.63,469.13L466.70,468.49L464.76,468.49L462.83,469.13L462.19,470.42L462.83,471.71L464.12,472.35L467.34,472.99L468.63,473.64L469.27,474.93L469.27,475.57L468.63,476.86L466.70,477.50L464.76,477.50L462.83,476.86L462.19,475.57M473.13,463.98L473.78,464.63L474.42,463.98L473.78,463.34L473.13,463.98M473.78,468.49L473.78,477.50M479.57,463.98L479.57,474.93L480.21,476.86L481.50,477.50L482.79,477.50M477.64,468.49L482.14,468.49M501.46,461.41L500.17,462.69L498.88,464.63L497.59,467.20L496.95,470.42L496.95,472.99L497.59,476.21L498.88,478.79L500.17,480.72L501.46,482.01M505.96,463.98L505.96,477.50M505.96,471.06L507.89,469.13L509.18,468.49L511.11,468.49L512.40,469.13L513.04,471.06L513.04,477.50M520.77,468.49L519.48,469.13L518.19,470.42L517.55,472.35L517.55,473.64L518.19,475.57L519.48,476.86L520.77,477.50L522.70,477.50L523.99,476.86L525.27,475.57L525.92,473.64L525.92,472.35L525.27,470.42L523.99,469.13L522.70,468.49L520.77,468.49M530.42,468.49L530.42,474.93L531.07,476.86L532.35,477.50L534.28,477.50L535.57,476.86L537.50,474.93M537.50,468.49L537.50,477.50M542.65,468.49L542.65,477.50M542.65,472.35L543.30,470.42L544.58,469.13L545.87,468.49L547.80,468.49M557.46,470.42L556.81,469.13L554.88,468.49L552.95,468.49L551.02,469.13L550.38,470.42L551.02,471.71L552.31,472.35L555.53,472.99L556.81,473.64L557.46,474.93L557.46,475.57L556.81,476.86L554.88,477.50L552.95,477.50L551.02,476.86L550.38,475.57M561.32,461.41L562.61,462.69L563.89,464.63L565.18,467.20L565.83,470.42L565.83,472.99L565.18,476.21L563.89,478.79L562.61,480.72L561.32,482.01M0.38,234.58L13.90,234.58M0.38,234.58L0.38,226.21M6.82,234.58L6.82,229.43M0.38,222.99L13.90,222.99M4.89,217.84L11.33,217.84L13.26,217.20L13.90,215.91L13.90,213.98L13.26,212.69L11.33,210.76M4.89,210.76L13.90,210.76M4.89,206.26L13.90,199.18M4.89,199.18L13.90,206.26" fill="none" stroke="#141414" stroke-width="1.7" stroke-linecap="round" stroke-linejoin="round"/>
</g>
</svg>
</body></html>
